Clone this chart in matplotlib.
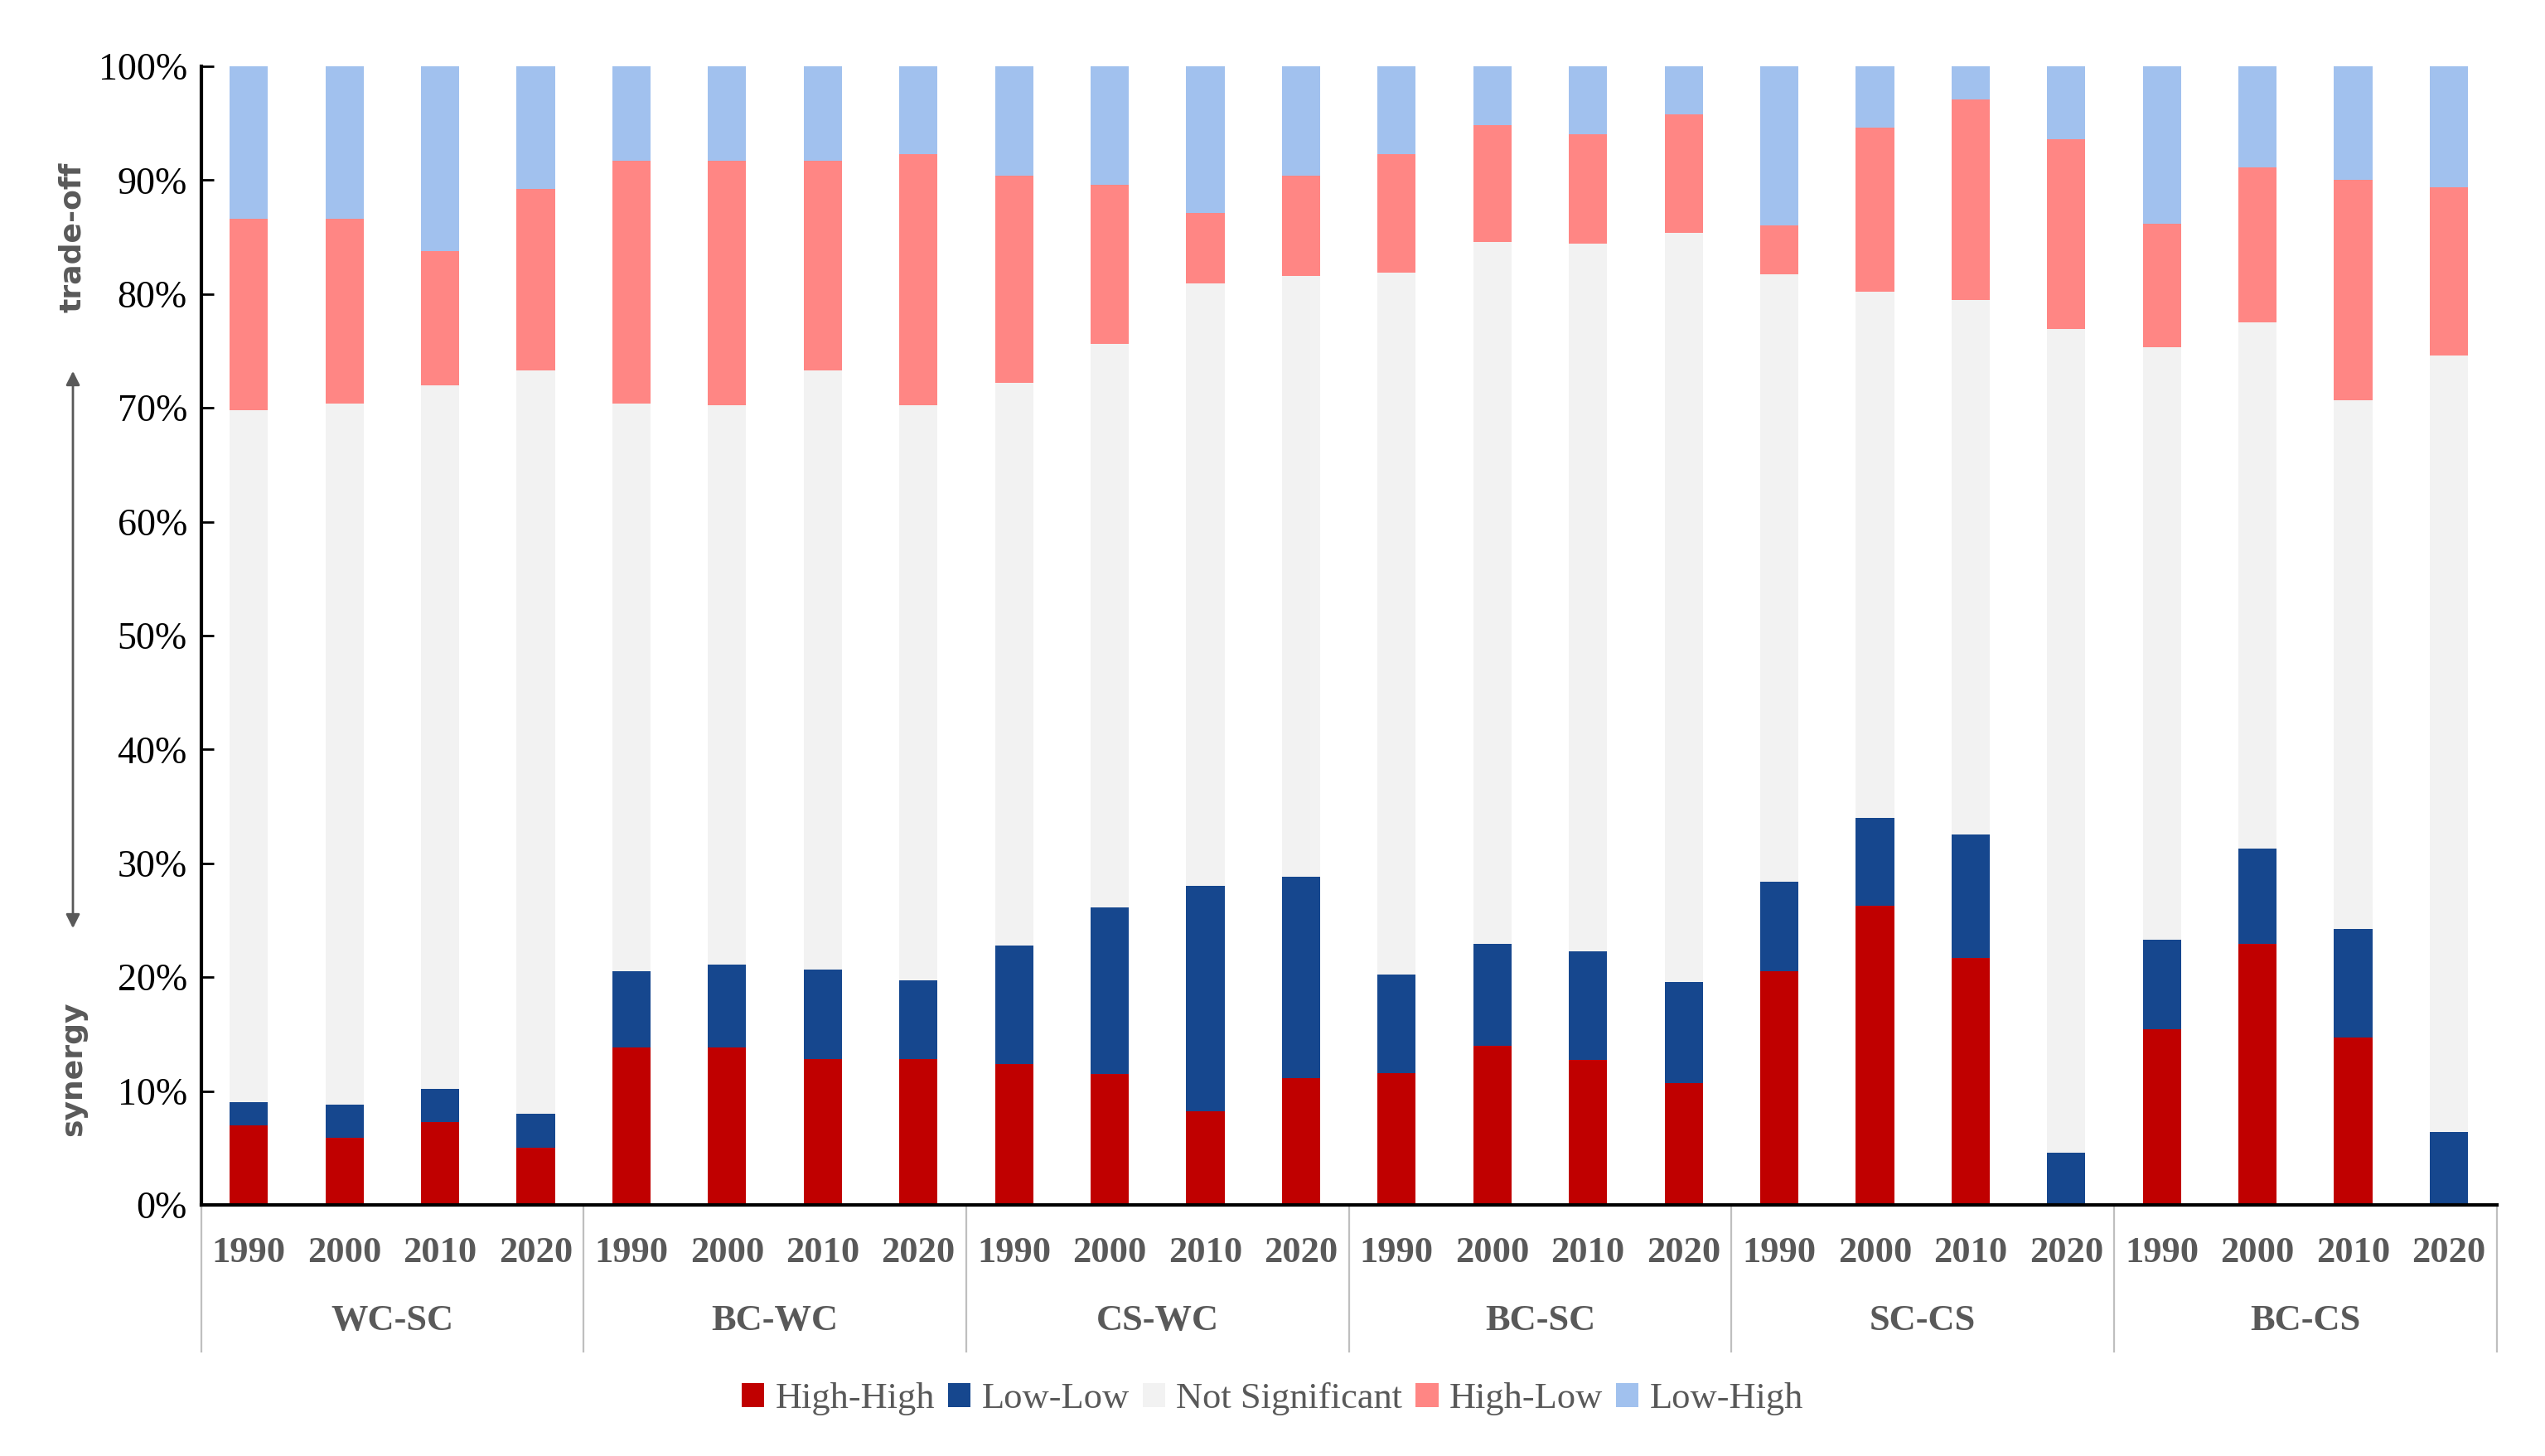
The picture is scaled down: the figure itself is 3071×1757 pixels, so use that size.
import numpy as np
import matplotlib.pyplot as plt
from matplotlib.ticker import PercentFormatter
from matplotlib.transforms import blended_transform_factory

# pairs of services, four years each
groups = ["WC-SC", "BC-WC", "CS-WC", "BC-SC", "SC-CS", "BC-CS"]
years = ["1990", "2000", "2010", "2020"]

# shares in percent (group by group)
high_high = [7.0, 5.9, 7.3, 5.0, 13.8, 13.8, 12.8, 12.8, 12.4, 11.5, 8.2, 11.1,
             11.6, 14.0, 12.7, 10.7, 20.5, 26.3, 21.7, 0.0, 15.4, 22.9, 14.7, 0.0]
low_low = [2.0, 2.9, 2.9, 3.0, 6.7, 7.3, 7.9, 6.9, 10.4, 14.6, 19.8, 17.7,
           8.6, 8.9, 9.6, 8.9, 7.9, 7.7, 10.8, 4.6, 7.9, 8.4, 9.5, 6.4]
not_sig = [60.8, 61.6, 61.8, 65.3, 49.9, 49.1, 52.6, 50.5, 49.4, 49.5, 52.9, 52.8,
           61.7, 61.7, 62.1, 65.8, 53.3, 46.2, 47.0, 72.3, 52.0, 46.2, 46.5, 68.2]
high_low = [16.8, 16.2, 11.8, 15.9, 21.3, 21.5, 18.4, 22.1, 18.2, 14.0, 6.2, 8.8,
            10.4, 10.2, 9.6, 10.4, 4.3, 14.4, 17.6, 16.7, 10.9, 13.6, 19.3, 14.8]
low_high = [13.4, 13.4, 16.2, 10.8, 8.3, 8.3, 8.3, 7.7, 9.6, 10.4, 12.9, 9.6,
            7.7, 5.2, 6.0, 4.2, 14.0, 5.4, 2.9, 6.4, 13.8, 8.9, 10.0, 10.6]

series = [
    ("High-High", high_high, "#C00000"),
    ("Low-Low", low_low, "#16478E"),
    ("Not Significant", not_sig, "#F2F2F2"),
    ("High-Low", high_low, "#FF8684"),
    ("Low-High", low_high, "#A1C1EE"),
]

GRAY = "#595959"
SERIF = "Liberation Serif"

fig = plt.figure(figsize=(30.71, 17.57), dpi=100)
ax = fig.add_axes([0.079, 0.1725, 0.902, 0.782])

x = np.arange(len(groups) * len(years))
bottom = np.zeros(len(x))
handles = []
for name, vals, col in series:
    vals = np.array(vals)
    b = ax.bar(x, vals, 0.4, bottom=bottom, color=col, label=name)
    handles.append(b)
    bottom += vals

ax.set_xlim(-0.5, len(x) - 0.5)
ax.set_ylim(0, 100)
ax.set_yticks(np.arange(0, 101, 10))
ax.yaxis.set_major_formatter(PercentFormatter(decimals=0))
ax.tick_params(axis="y", direction="in", length=11, width=2, labelsize=33, pad=12)
for lab in ax.get_yticklabels():
    lab.set_fontfamily(SERIF)
ax.set_xticks([])

for s in ["top", "right"]:
    ax.spines[s].set_visible(False)
ax.spines["left"].set_linewidth(3)
ax.spines["bottom"].set_linewidth(3)

# category labels under the axis
trans = blended_transform_factory(ax.transData, ax.transAxes)
for i, xi in enumerate(x):
    ax.text(xi, -0.042, years[i % len(years)], transform=trans, ha="center", va="center",
            fontsize=32, fontweight="bold", color=GRAY, fontfamily=SERIF)
for g, name in enumerate(groups):
    mid = g * len(years) + (len(years) - 1) / 2
    ax.text(mid, -0.102, name, transform=trans, ha="center", va="center",
            fontsize=32, fontweight="bold", color=GRAY, fontfamily=SERIF)
for g in range(len(groups) + 1):
    xb = g * len(years) - 0.5
    ax.plot([xb, xb], [0, -0.129], transform=trans, color="#BFBFBF", lw=1.6,
            clip_on=False)

# synergy / trade-off side labels
fig.text(87 / 3071, 1 - 286 / 1757, "trade-off", rotation=90, ha="center", va="center",
         fontsize=26, fontweight="bold", color=GRAY)
fig.text(88 / 3071, 1 - 1290 / 1757, "synergy", rotation=90, ha="center", va="center",
         fontsize=26, fontweight="bold", color=GRAY)
ax.annotate("", xy=(88 / 3071, 1 - 445 / 1757), xytext=(88 / 3071, 1 - 1123 / 1757),
            xycoords="figure fraction", textcoords="figure fraction",
            arrowprops=dict(arrowstyle="<|-|>", color=GRAY, lw=2, mutation_scale=25))

leg = fig.legend(handles=handles, loc="center", bbox_to_anchor=(0.5, 0.039), ncol=5,
                 frameon=False, handlelength=0.62, handleheight=0.62, handletextpad=0.3,
                 columnspacing=0.35, prop={"family": SERIF, "size": 32})
for t in leg.get_texts():
    t.set_color(GRAY)

fig.savefig("out.png", dpi=100)
